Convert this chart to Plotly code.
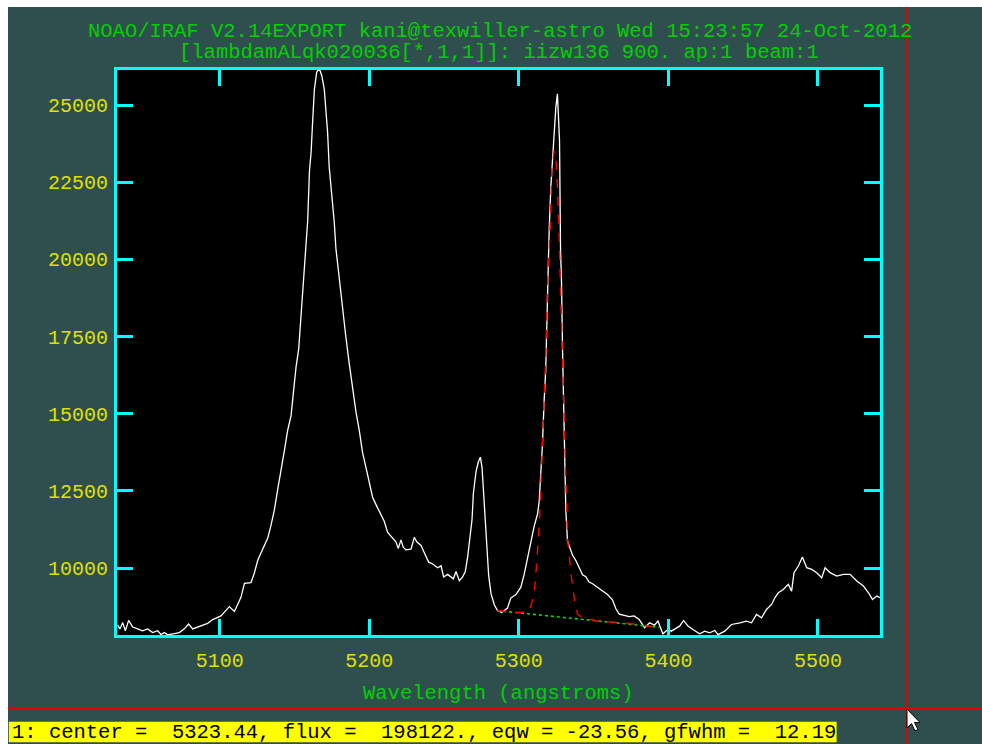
import plotly.graph_objects as go

# ---------------- spectrum ----------------
wave = [5031.7, 5033.3, 5035.1, 5036.9, 5039.1, 5041.8, 5045.1, 5048.4, 5051.8, 5055.1,
        5058.5, 5060.7, 5062.9, 5065.2, 5069.6, 5073.0, 5076.3, 5079.2, 5081.9, 5085.2,
        5088.6, 5091.9, 5095.3, 5098.0, 5100.8, 5104.2, 5106.4, 5109.8, 5112.0, 5114.2,
        5116.5, 5120.9, 5123.1, 5125.4, 5128.7, 5132.1, 5134.3, 5136.5, 5138.7, 5141.0,
        5143.2, 5145.4, 5147.7, 5149.2, 5151.0, 5152.8, 5154.4, 5155.9, 5157.3, 5158.8,
        5160.0, 5161.1, 5162.2, 5163.3, 5164.8, 5165.4, 5167.0, 5168.3, 5169.9, 5171.0,
        5172.1, 5173.2, 5175.5, 5176.6, 5177.7, 5179.9, 5182.2, 5184.4, 5186.6, 5188.9,
        5191.1, 5193.3, 5195.5, 5197.8, 5200.0, 5202.2, 5204.5, 5207.8, 5210.0, 5212.3,
        5215.6, 5217.8, 5219.4, 5221.2, 5222.7, 5224.5, 5227.9, 5230.1, 5231.7, 5234.6,
        5236.8, 5239.7, 5242.4, 5245.7, 5248.0, 5249.7, 5252.4, 5254.6, 5256.2, 5258.0,
        5260.2, 5262.4, 5264.2, 5265.8, 5267.3, 5268.7, 5269.6, 5271.4, 5272.9, 5274.3,
        5275.4, 5276.5, 5277.6, 5278.7, 5279.8, 5281.4, 5283.6, 5285.7, 5288.5, 5292.4,
        5294.6, 5298.0, 5301.3, 5303.5, 5305.8, 5308.0, 5310.2, 5312.5, 5313.6, 5314.7,
        5315.8, 5316.9, 5318.0, 5318.7, 5319.4, 5320.3, 5321.4, 5322.5, 5323.6, 5324.7,
        5325.8, 5326.5, 5327.2, 5327.9, 5328.5, 5329.2, 5330.1, 5330.7, 5331.4, 5332.5,
        5334.1, 5335.9, 5338.1, 5340.3, 5342.6, 5344.8, 5347.0, 5349.3, 5352.6, 5356.0,
        5359.3, 5362.6, 5364.9, 5367.1, 5370.4, 5373.8, 5377.1, 5380.5, 5384.1, 5387.4,
        5390.7, 5393.0, 5396.3, 5399.7, 5401.9, 5405.3, 5407.5, 5410.2, 5413.1, 5416.4,
        5420.9, 5424.3, 5427.6, 5431.0, 5433.2, 5437.7, 5442.2, 5447.8, 5452.2, 5455.6,
        5458.9, 5462.3, 5465.6, 5469.0, 5471.2, 5473.5, 5476.8, 5480.2, 5482.4, 5484.0,
        5486.9, 5489.6, 5492.5, 5495.8, 5499.2, 5502.5, 5504.8, 5508.1, 5512.6, 5517.0,
        5521.5, 5526.0, 5530.4, 5533.8, 5536.5, 5539.4, 5541.5]
flux = [8148, 8028, 8232, 7968, 8305, 8088, 8028, 7968, 8028, 7908,
        7968, 7847, 7908, 7835, 7871, 7908, 8028, 8184, 8028, 8088,
        8148, 8208, 8329, 8389, 8449, 8629, 8749, 8593, 8809, 9049,
        9506, 9530, 9830, 10251, 10612, 10973, 11393, 11874, 12535, 13136,
        13798, 14459, 14939, 15660, 16502, 17103, 18185, 19507, 20469, 21250,
        22873, 23474, 24555, 25517, 26058, 26118, 26140, 25938, 25517, 24916,
        24135, 22993, 21791, 21190, 20348, 19387, 18305, 17464, 16622, 15781,
        15060, 14459, 13738, 13256, 12776, 12295, 12055, 11754, 11514, 11153,
        10973, 10853, 10636, 10913, 10673, 10589, 10612, 10997, 10853, 10733,
        10492, 10191, 10131, 10011, 10071, 9711, 9794, 9711, 9650, 9890,
        9590, 9711, 9890, 10371, 10973, 11573, 12415, 13136, 13436, 13593,
        13256, 12415, 11694, 10492, 9771, 9170, 8809, 8621, 8560, 8702,
        9027, 9142, 9374, 9779, 10301, 10881, 11344, 11750, 12156, 13083,
        14010, 15401, 16444, 17834, 19341, 20963, 22354, 23281, 24208, 24903,
        25367, 24672, 23860, 20268, 19341, 17139, 15285, 13315, 11924, 10881,
        10649, 10417, 10244, 10012, 9779, 9722, 9548, 9490, 9374, 9258,
        9142, 8969, 8679, 8505, 8471, 8424, 8447, 8331, 8063, 8226,
        8150, 8280, 7869, 8009, 7955, 8063, 8117, 8301, 8117, 8009,
        7869, 7955, 7901, 7977, 7840, 7955, 8171, 8226, 8280, 8226,
        8496, 8388, 8658, 8820, 9037, 9199, 9307, 9470, 9253, 9849,
        10065, 10357, 10011, 9957, 9849, 9686, 10011, 9849, 9740, 9794,
        9794, 9578, 9416, 9199, 8983, 9091, 9037]

# gaussian fit (red dashed) and its continuum (green dotted)
fit_wave = [5285.7, 5298.0, 5306.9, 5310.2, 5311.4, 5313.6, 5315.1, 5316.5, 5318.1, 5319.1,
            5320.9, 5322.1, 5323.6, 5324.7, 5325.8, 5327.0, 5328.3, 5329.6, 5331.0, 5332.5,
            5334.8, 5337.0, 5339.2, 5342.5, 5353.7, 5371.6, 5389.4]
fit_flux = [8620, 8560, 8580, 9142, 9837, 11346, 13083, 14820, 17024, 19110,
            20963, 22933, 23514, 23338, 22358, 20616, 18300, 15632, 13083, 11000,
            9837, 9025, 8506, 8390, 8275, 8214, 8100]
cont_wave = [5285.5, 5394.0]
cont_flux = [8620, 8080]

title_1 = "NOAO/IRAF V2.14EXPORT kani@texwiller-astro Wed 15:23:57 24-Oct-2012"
title_2 = "[lambdamALqk020036[*,1,1]]: iizw136 900. ap:1 beam:1"
x_label = "Wavelength (angstroms)"
status = "1: center =\u00a0 5323.44, flux =\u00a0 198122., eqw = -23.56, gfwhm =\u00a0 12.19"

x_range = [5031.3, 5541.5]
y_range = [7830, 26140]

# ---------------- figure ----------------
FW, FH = 982, 744
L, T, W, H = 117, 70, 763, 565


def px(x):
    return (x - L) / W


def py(y):
    return (T + H - y) / H


FONT = "Liberation Mono"
CYAN = "#00ffff"
YEL = "#e0e000"
GRN = "#00d000"
RED = "#e00000"

fig = go.Figure()
fig.add_trace(go.Scatter(x=wave, y=flux, mode="lines",
                         line=dict(color="white", width=1.3)))
fig.add_trace(go.Scatter(x=cont_wave, y=cont_flux, mode="lines",
                         line=dict(color="#00e000", width=1.6, dash="dot")))
fig.add_trace(go.Scatter(x=fit_wave, y=fit_flux, mode="lines",
                         line=dict(color="#ff0000", width=1.4, dash="dash")))

axis_common = dict(showline=True, linecolor=CYAN, linewidth=3, mirror="ticks",
                   ticks="inside", ticklen=16, tickwidth=2.5, tickcolor=CYAN,
                   showgrid=False, zeroline=False,
                   tickfont=dict(family=FONT, size=20, color=YEL))
fig.update_xaxes(range=x_range, tick0=5100, dtick=100, ticklabelstandoff=5, **axis_common)
fig.update_yaxes(range=y_range, tick0=10000, dtick=2500, tickformat="d",
                 ticklabelstandoff=2, **axis_common)

shapes = [
    # white window edge
    dict(type="rect", xref="paper", yref="paper", x0=px(-2), x1=px(FW + 2), y0=py(7), y1=py(-2),
         fillcolor="white", line=dict(width=0), layer="above"),
    dict(type="rect", xref="paper", yref="paper", x0=px(-2), x1=px(8), y0=py(FH + 2), y1=py(0),
         fillcolor="white", line=dict(width=0), layer="above"),
    # status bar
    dict(type="rect", xref="paper", yref="paper", x0=px(8.8), x1=px(836.6), y0=py(742.3),
         y1=py(721.7), fillcolor="#ffff00", line=dict(width=0), layer="above"),
    # crosshair cursor
    dict(type="line", xref="paper", yref="paper", x0=px(906.7), x1=px(906.7), y0=py(7),
         y1=py(FH + 2), line=dict(color=RED, width=1.2), layer="above"),
    dict(type="line", xref="paper", yref="paper", x0=px(8), x1=px(FW + 2), y0=py(708.3),
         y1=py(708.3), line=dict(color=RED, width=2.2), layer="above"),
]
# mouse pointer
ax, ay = 907, 709
pts = [(0, 0), (0, 19), (4.5, 14.5), (8, 22), (11, 20.5), (7.5, 13.5), (13, 13.5)]
path = "M " + " L ".join(f"{px(ax + dx):.5f},{py(ay + dy):.5f}" for dx, dy in pts) + " Z"
shapes.append(dict(type="path", xref="paper", yref="paper", path=path,
                   fillcolor="white", line=dict(color="black", width=1), layer="above"))

annotations = [
    dict(text=title_1, x=px(500), y=py(31), xref="paper", yref="paper", showarrow=False,
         xanchor="center", yanchor="middle", font=dict(family=FONT, size=20.5, color=GRN)),
    dict(text=title_2, x=px(499), y=py(52), xref="paper", yref="paper", showarrow=False,
         xanchor="center", yanchor="middle", font=dict(family=FONT, size=20.5, color=GRN)),
    dict(text=x_label, x=px(498.5), y=py(693), xref="paper", yref="paper", showarrow=False,
         xanchor="center", yanchor="middle", font=dict(family=FONT, size=20.5, color=GRN)),
    dict(text=status, x=px(9.5), y=py(732), xref="paper", yref="paper", showarrow=False,
         xanchor="left", yanchor="middle", font=dict(family=FONT, size=20.5, color="black")),
]

fig.update_layout(
    width=FW, height=FH,
    margin=dict(l=L, r=FW - L - W, t=T, b=FH - T - H, pad=0),
    paper_bgcolor="#2f4f4f", plot_bgcolor="black",
    showlegend=False,
    shapes=shapes, annotations=annotations,
)

# figure is sized to the whole window, so drop the page margin
fig.write_html("out.html", config={"displayModeBar": False},
               post_script="document.body.style.margin='0';"
                           "document.body.style.overflow='hidden';")
